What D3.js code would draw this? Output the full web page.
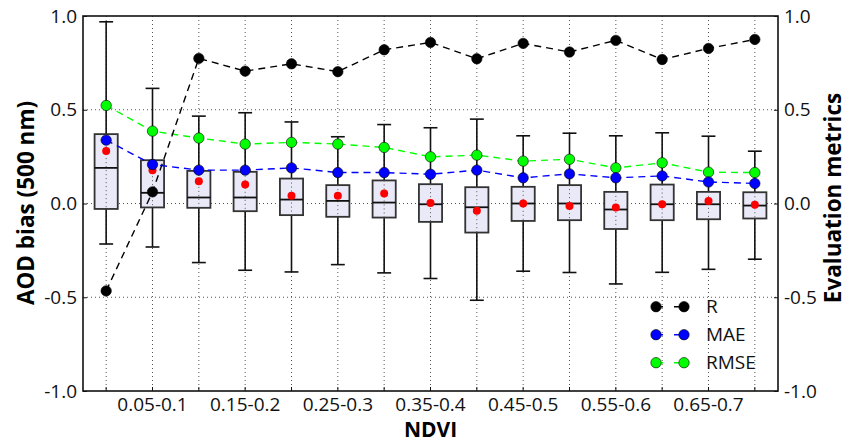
<!DOCTYPE html>
<html>
<head>
<meta charset="utf-8">
<script src="https://cdn.jsdelivr.net/npm/d3@7"></script>
<style>
  body { margin: 0; background: #fff; }
  svg { font-family: "Open Sans", sans-serif; }
</style>
</head>
<body>
<script>
// NDVI bins
const categories = ["0-0.05", "0.05-0.1", "0.1-0.15", "0.15-0.2", "0.2-0.25", "0.25-0.3", "0.3-0.35",
  "0.35-0.4", "0.4-0.45", "0.45-0.5", "0.5-0.55", "0.55-0.6", "0.6-0.65", "0.65-0.7", "0.7-0.75"];
const tickLabels = ["", "0.05-0.1", "", "0.15-0.2", "", "0.25-0.3", "", "0.35-0.4", "", "0.45-0.5", "", "0.55-0.6", "", "0.65-0.7", ""];

// box stats of AOD bias
const whiskerLow = [-0.216, -0.232, -0.315, -0.356, -0.365, -0.326, -0.370, -0.400, -0.516, -0.361, -0.368, -0.429, -0.367, -0.351, -0.297];
const q1 = [-0.029, -0.021, -0.023, -0.041, -0.062, -0.071, -0.075, -0.098, -0.155, -0.093, -0.089, -0.136, -0.089, -0.084, -0.080];
const median = [0.190, 0.057, 0.032, 0.032, 0.021, 0.014, 0.005, -0.004, -0.020, 0.000, 0.000, -0.032, -0.004, -0.004, -0.011];
const q3 = [0.370, 0.231, 0.174, 0.169, 0.133, 0.098, 0.123, 0.103, 0.087, 0.089, 0.098, 0.062, 0.101, 0.062, 0.060];
const whiskerHigh = [0.969, 0.614, 0.466, 0.484, 0.435, 0.356, 0.421, 0.404, 0.450, 0.361, 0.375, 0.361, 0.377, 0.359, 0.279];
const mean = [0.280, 0.178, 0.119, 0.101, 0.041, 0.041, 0.053, 0.003, -0.039, 0.000, -0.013, -0.021, -0.004, 0.014, -0.007];

// evaluation metrics
const R = [-0.466, 0.062, 0.774, 0.706, 0.745, 0.703, 0.820, 0.859, 0.772, 0.854, 0.808, 0.870, 0.768, 0.827, 0.875];
const MAE = [0.338, 0.208, 0.178, 0.178, 0.190, 0.165, 0.165, 0.156, 0.178, 0.137, 0.158, 0.137, 0.147, 0.115, 0.107];
const RMSE = [0.523, 0.386, 0.349, 0.317, 0.326, 0.317, 0.299, 0.249, 0.258, 0.226, 0.236, 0.190, 0.217, 0.167, 0.165];

const yTicks = [-1.0, -0.5, 0.0, 0.5, 1.0];

const W = 847, H = 444;
const margin = { top: 16, right: 69, bottom: 53, left: 83 };
const w = W - margin.left - margin.right, h = H - margin.top - margin.bottom;

const svg = d3.select("body").append("svg").attr("width", W).attr("height", H);
const g = svg.append("g").attr("transform", `translate(${margin.left},${margin.top})`);

const x = d3.scaleBand().domain(categories).range([0, w]).padding(0);
const cx = c => x(c) + x.bandwidth() / 2;
const y = d3.scaleLinear().domain([-1, 1]).range([h, 0]);

// grid
g.selectAll(".vgrid").data(categories).enter().append("line")
  .attr("x1", d => cx(d)).attr("x2", d => cx(d)).attr("y1", 0).attr("y2", h)
  .attr("stroke", "#555").attr("stroke-width", 1).attr("stroke-dasharray", "1,3");
g.selectAll(".hgrid").data([-0.5, 0, 0.5]).enter().append("line")
  .attr("x1", 0).attr("x2", w).attr("y1", d => y(d)).attr("y2", d => y(d))
  .attr("stroke", "#555").attr("stroke-width", 1).attr("stroke-dasharray", "1,3");

// boxes
const bw = x.bandwidth() * 0.5, cw = x.bandwidth() * 0.3;
categories.forEach((c, i) => {
  const xc = cx(c);
  g.append("line").attr("x1", xc).attr("x2", xc).attr("y1", y(q3[i])).attr("y2", y(whiskerHigh[i]))
    .attr("stroke", "#111").attr("stroke-width", 1.6);
  g.append("line").attr("x1", xc).attr("x2", xc).attr("y1", y(q1[i])).attr("y2", y(whiskerLow[i]))
    .attr("stroke", "#111").attr("stroke-width", 1.6);
  [whiskerHigh[i], whiskerLow[i]].forEach(v => {
    g.append("line").attr("x1", xc - cw / 2).attr("x2", xc + cw / 2).attr("y1", y(v)).attr("y2", y(v))
      .attr("stroke", "#111").attr("stroke-width", 1.6);
  });
  g.append("rect").attr("x", xc - bw / 2).attr("width", bw)
    .attr("y", y(q3[i])).attr("height", y(q1[i]) - y(q3[i]))
    .attr("fill", "#e9e9f8").attr("stroke", "#333").attr("stroke-width", 1.8);
  // keep the dotted grid visible through the box fill
  g.append("line").attr("x1", xc).attr("x2", xc).attr("y1", y(q3[i])).attr("y2", y(q1[i]))
    .attr("stroke", "#555").attr("stroke-dasharray", "1,3");
  g.append("line").attr("x1", xc - bw / 2).attr("x2", xc + bw / 2).attr("y1", y(median[i])).attr("y2", y(median[i]))
    .attr("stroke", "#111").attr("stroke-width", 1.8);
});

g.selectAll(".mean").data(mean).enter().append("circle")
  .attr("cx", (d, i) => cx(categories[i])).attr("cy", d => y(d)).attr("r", 4)
  .attr("fill", "#ff0000");

// metrics
const series = [
  { name: "R", values: R, color: "#000000" },
  { name: "MAE", values: MAE, color: "#0000ff" },
  { name: "RMSE", values: RMSE, color: "#00ff00" }
];
const line = d3.line().x((d, i) => cx(categories[i])).y(d => y(d));
series.slice().reverse().forEach(s => {
  g.append("path").datum(s.values).attr("d", line).attr("fill", "none")
    .attr("stroke", s.color).attr("stroke-width", 1.4).attr("stroke-dasharray", "7,5");
  g.selectAll(null).data(s.values).enter().append("circle")
    .attr("cx", (d, i) => cx(categories[i])).attr("cy", d => y(d)).attr("r", 5.2)
    .attr("fill", s.color).attr("stroke", "#000").attr("stroke-width", 0.6);
});

// axes (plain hyphen for negatives, like the original)
const fmt = d3.formatLocale({ decimal: ".", thousands: ",", grouping: [3], currency: ["", ""], minus: "-" }).format(".1f");
const xAxis = g.append("g").attr("transform", `translate(0,${h})`)
  .call(d3.axisBottom(x).tickSizeInner(-4).tickSizeOuter(0).tickPadding(7)
    .tickFormat((d, i) => tickLabels[i]));
const yAxisL = g.append("g")
  .call(d3.axisLeft(y).tickValues(yTicks).tickSizeInner(-4).tickSizeOuter(0).tickPadding(6).tickFormat(fmt));
const yAxisR = g.append("g").attr("transform", `translate(${w},0)`)
  .call(d3.axisRight(y).tickValues(yTicks).tickSizeInner(-4).tickSizeOuter(0).tickPadding(6).tickFormat(fmt));
[xAxis, yAxisL, yAxisR].forEach(a => {
  a.select(".domain").remove();
  a.selectAll("text").attr("font-size", 19).attr("font-family", "Open Sans, sans-serif").attr("fill", "#111");
  a.selectAll("line").attr("stroke", "#111");
});

g.append("rect").attr("width", w).attr("height", h).attr("fill", "none")
  .attr("stroke", "#111").attr("stroke-width", 1.6);

// legend
const lg = g.append("g");
series.forEach((s, i) => {
  const ly = 306.7 - margin.top + i * 28;
  const lx1 = 656 - margin.left, lx2 = 684 - margin.left;
  lg.append("line").attr("x1", lx1).attr("x2", lx2).attr("y1", ly).attr("y2", ly)
    .attr("stroke", s.color).attr("stroke-width", 1.4).attr("stroke-dasharray", "7,11");
  [lx1, lx2].forEach(px => lg.append("circle").attr("cx", px).attr("cy", ly).attr("r", 5.2)
    .attr("fill", s.color).attr("stroke", "#000").attr("stroke-width", 0.6));
  lg.append("text").attr("x", 706 - margin.left).attr("y", ly).attr("dy", "0.35em")
    .attr("font-size", 19).attr("fill", "#111").text(s.name);
});

// axis titles
svg.append("text").attr("transform", `translate(34,203)rotate(-90)`).attr("text-anchor", "middle")
  .attr("font-size", 22.5).attr("font-weight", "bold").text("AOD bias (500 nm)");
svg.append("text").attr("transform", `translate(841,198)rotate(-90)`).attr("text-anchor", "middle")
  .attr("font-size", 22.5).attr("font-weight", "bold").text("Evaluation metrics");
svg.append("text").attr("x", margin.left + w / 2).attr("y", 437).attr("text-anchor", "middle")
  .attr("font-size", 21).attr("font-weight", "bold").text("NDVI");
</script>
</body>
</html>
